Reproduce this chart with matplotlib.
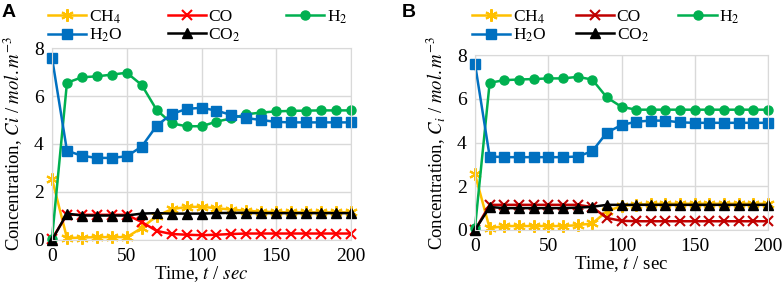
import matplotlib
matplotlib.use("Agg")
import matplotlib.pyplot as plt

plt.rcParams['font.family'] = ['Liberation Serif', 'DejaVu Serif']
plt.rcParams['mathtext.fontset'] = 'stix'

t = [0, 10, 20, 30, 40, 50, 60, 70, 80, 90, 100, 110, 120, 130, 140, 150, 160, 170, 180, 190, 200]

ch4_a = [2.55, 0.08, 0.1, 0.12, 0.12, 0.12, 0.5, 1.0, 1.28, 1.38, 1.38, 1.33, 1.26, 1.22, 1.18, 1.16, 1.15, 1.15, 1.15, 1.15, 1.15]
co_a = [0.05, 1.05, 1.05, 1.05, 1.05, 1.05, 0.75, 0.38, 0.25, 0.22, 0.2, 0.22, 0.25, 0.27, 0.27, 0.27, 0.27, 0.27, 0.27, 0.27, 0.27]
h2_a = [0.05, 6.55, 6.78, 6.82, 6.89, 6.97, 6.46, 5.42, 4.86, 4.74, 4.74, 4.93, 5.07, 5.24, 5.31, 5.36, 5.38, 5.39, 5.4, 5.4, 5.4]
h2o_a = [7.6, 3.72, 3.51, 3.42, 3.42, 3.49, 3.89, 4.76, 5.25, 5.46, 5.51, 5.39, 5.21, 5.08, 5.0, 4.92, 4.9, 4.9, 4.9, 4.9, 4.9]
co2_a = [0.0, 1.1, 1.02, 1.02, 1.02, 1.02, 1.1, 1.12, 1.1, 1.1, 1.1, 1.12, 1.13, 1.13, 1.12, 1.12, 1.12, 1.12, 1.12, 1.12, 1.12]

ch4_b = [2.55, 0.08, 0.18, 0.18, 0.18, 0.18, 0.18, 0.22, 0.3, 0.85, 1.1, 1.15, 1.18, 1.2, 1.2, 1.2, 1.2, 1.2, 1.2, 1.2, 1.2]
co_b = [0.0, 1.15, 1.15, 1.15, 1.15, 1.15, 1.15, 1.15, 1.05, 0.55, 0.42, 0.4, 0.4, 0.4, 0.4, 0.4, 0.4, 0.4, 0.4, 0.4, 0.4]
h2_b = [0.1, 6.73, 6.85, 6.88, 6.9, 6.93, 6.93, 7.0, 6.88, 6.06, 5.63, 5.5, 5.5, 5.5, 5.5, 5.5, 5.5, 5.5, 5.5, 5.5, 5.5]
h2o_b = [7.6, 3.36, 3.33, 3.33, 3.33, 3.33, 3.33, 3.36, 3.6, 4.45, 4.8, 4.95, 5.0, 5.0, 4.92, 4.9, 4.9, 4.9, 4.9, 4.9, 4.9]
co2_b = [0.0, 1.05, 1.0, 1.0, 1.0, 1.0, 1.0, 1.02, 1.06, 1.15, 1.15, 1.15, 1.15, 1.15, 1.15, 1.15, 1.15, 1.15, 1.15, 1.15, 1.15]

labels = ['CH$_4$', 'CO', 'H$_2$', 'H$_2$O', 'CO$_2$']
xticks = [0, 50, 100, 150, 200]
yticks = [0, 2, 4, 6, 8]

ast = (6, 2, 0)
styles_a = [
    dict(color='#FFC000', marker=ast, ms=9, mew=1.5),
    dict(color='#FF0000', marker='x', ms=7, mew=1.5),
    dict(color='#00B050', marker='o', ms=6.5),
    dict(color='#0070C0', marker='s', ms=6.5),
    dict(color='#000000', marker='^', ms=6.5),
]
styles_b = [dict(s) for s in styles_a]
styles_b[1]['color'] = '#C00000'

fig = plt.figure(figsize=(7.82, 2.88), dpi=100)
W, H = 782, 288
def axes_px(l, t_, r, b):
    return fig.add_axes([l / W, (H - b) / H, (r - l) / W, (b - t_) / H])

axA = axes_px(52, 48, 351, 240)
axB = axes_px(475, 55, 768, 230)

def draw(ax, series, styles, ylab, xlab, leg_anchor, colsp, legfs):
    handles = []
    for y, st, lab in zip(series, styles, labels):
        h, = ax.plot(t, y, lw=1.8, clip_on=False, label=lab, **st)
        handles.append(h)
    ax.set_xlim(0, 200)
    ax.set_ylim(0, 8)
    ax.set_xticks(xticks)
    ax.set_yticks(yticks)
    ax.grid(True, color='#d9d9d9', lw=1)
    ax.set_axisbelow(True)
    for s in ax.spines.values():
        s.set_color('#d9d9d9')
    ax.tick_params(length=0, labelsize=14, pad=6)
    ax.set_ylabel(ylab, fontsize=13.5, labelpad=6)
    ax.set_xlabel(xlab, fontsize=13.5, labelpad=-1)
    order = [0, 3, 1, 4, 2]
    leg = ax.legend([handles[i] for i in order], [labels[i] for i in order],
                    ncol=3, loc='lower left', bbox_to_anchor=leg_anchor,
                    bbox_transform=fig.transFigure, frameon=False,
                    fontsize=legfs, handlelength=2.2, handletextpad=0.15,
                    columnspacing=colsp, labelspacing=0.05, borderaxespad=0,
                    borderpad=0)
    return leg

draw(axA, [ch4_a, co_a, h2_a, h2o_a, co2_a], styles_a,
     'Concentration, $Ci$ / $mol.m^{-3}$', 'Time, $t$ / $sec$',
     (48 / W, (H - 44) / H), 2.6, 12.5)
draw(axB, [ch4_b, co_b, h2_b, h2o_b, co2_b], styles_b,
     'Concentration, $C_i$ / $mol.m^{-3}$', 'Time, $t$ / sec',
     (472 / W, (H - 44) / H), 1.7, 12.5)

fig.text(2 / W, (H - 4) / H, 'A', family='Liberation Sans', weight='bold', fontsize=14, va='top')
fig.text(402 / W, (H - 4) / H, 'B', family='Liberation Sans', weight='bold', fontsize=14, va='top')

fig.savefig('out.png', dpi=100)
